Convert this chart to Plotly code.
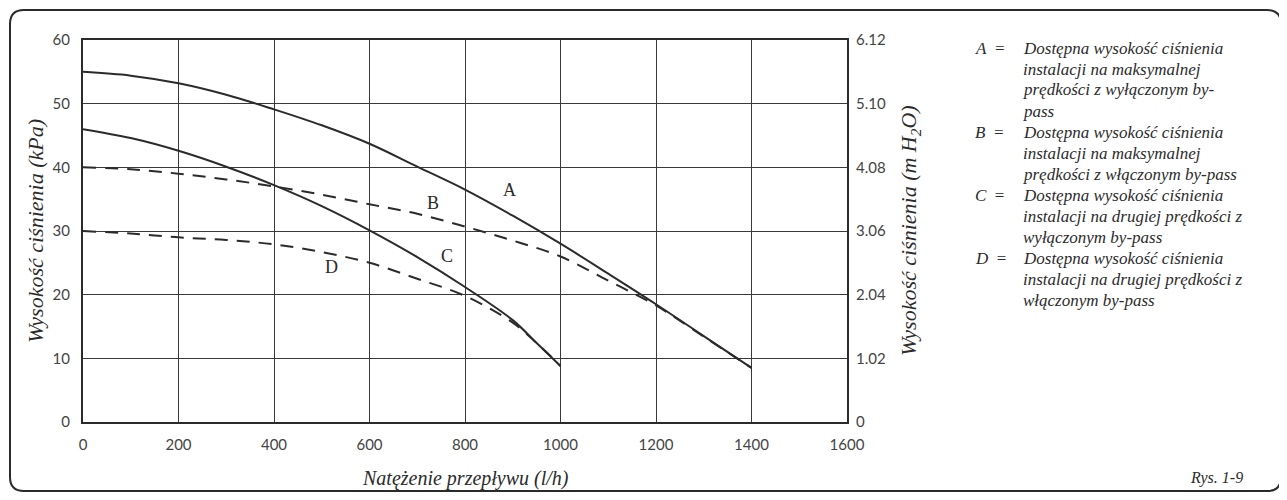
import plotly.graph_objects as go

# ---- data ----
flow_A = [0, 100, 200, 300, 400, 500, 600, 700, 800, 900, 1000, 1100, 1200, 1300, 1400]
head_A = [55.0, 54.4, 53.2, 51.4, 49.1, 46.6, 43.7, 40.1, 36.5, 32.4, 28.0, 23.3, 18.5, 13.5, 8.5]

flow_B = [0, 100, 200, 300, 400, 500, 600, 700, 800, 900, 1000, 1100, 1200, 1300, 1400]
head_B = [40.0, 39.7, 39.0, 38.1, 37.0, 35.7, 34.2, 32.7, 30.7, 28.5, 26.0, 22.2, 18.3, 13.4, 8.5]

flow_C = [0, 100, 200, 300, 400, 500, 600, 700, 800, 900, 950, 1000]
head_C = [46.0, 44.6, 42.6, 40.1, 37.2, 33.9, 30.1, 25.9, 21.2, 16.0, 12.4, 8.8]

flow_D = [0, 100, 200, 300, 400, 500, 600, 700, 800, 900, 950, 1000]
head_D = [30.0, 29.6, 29.0, 28.6, 27.9, 26.7, 25.0, 22.5, 19.8, 15.6, 12.4, 8.8]

x_ticks = [0, 200, 400, 600, 800, 1000, 1200, 1400, 1600]
y_ticks = [0, 10, 20, 30, 40, 50, 60]
y2_ticks = [0, 1.02, 2.04, 3.06, 4.08, 5.10, 6.12]
y2_labels = ["0", "1.02", "2.04", "3.06", "4.08", "5.10", "6.12"]

curve_labels = ["A", "B", "C", "D"]
curve_label_x = [894, 733, 762, 521]
curve_label_y = [36.4, 34.4, 26.1, 24.3]

legend_keys = ["A", "B", "C", "D"]
legend_lines = [
    ["Dostępna wysokość ciśnienia", "instalacji na maksymalnej", "prędkości z wyłączonym by-", "pass"],
    ["Dostępna wysokość ciśnienia", "instalacji na maksymalnej", "prędkości z włączonym by-pass"],
    ["Dostępna wysokość ciśnienia", "instalacji na drugiej prędkości z", "wyłączonym by-pass"],
    ["Dostępna wysokość ciśnienia", "instalacji na drugiej prędkości z", "włączonym by-pass"],
]

# ---- layout geometry (page pixels; page body has an 8px margin) ----
OFF = 8
W, H = 1287, 500
PL, PR, PT, PB = 83, 847, 40, 422          # plot area in page pixels
ML, MT = PL - OFF, PT - OFF
MR, MB = W - (PR - OFF), H - (PB - OFF)
PW = PR - PL
PH = PB - PT

def px_x(px):
    return (px - PL) / PW

def px_y(py):
    return (PB - py) / PH

INK = "#2b2b2b"
SANS = "Lato"
SERIF = "Liberation Serif"

fig = go.Figure()
line_style = dict(color=INK, width=2)
fig.add_trace(go.Scatter(x=flow_A, y=head_A, mode="lines", line=dict(**line_style, shape="spline"), name="A"))
fig.add_trace(go.Scatter(x=flow_B, y=head_B, mode="lines", line=dict(**line_style, shape="spline", dash="13px,9px"), name="B"))
fig.add_trace(go.Scatter(x=flow_C, y=head_C, mode="lines", line=dict(**line_style, shape="spline"), name="C"))
fig.add_trace(go.Scatter(x=flow_D, y=head_D, mode="lines", line=dict(**line_style, shape="spline", dash="13px,9px"), name="D"))
# invisible trace to activate right axis
fig.add_trace(go.Scatter(x=[0], y=[0], yaxis="y2", mode="markers", marker=dict(opacity=0), hoverinfo="skip", showlegend=False))

annotations = []
for lab, lx, ly in zip(curve_labels, curve_label_x, curve_label_y):
    annotations.append(dict(x=lx, y=ly, xref="x", yref="y", text=lab, showarrow=False,
                            font=dict(family=SERIF, size=18, color=INK)))

LINE_H = 21
row = 0
for key, lines in zip(legend_keys, legend_lines):
    yc = 48 + LINE_H * row
    annotations.append(dict(x=px_x(973), y=px_y(yc), xref="paper", yref="paper", xanchor="left", yanchor="middle",
                            text="<i>%s</i>  =" % key, showarrow=False, align="left",
                            font=dict(family=SERIF, size=17, color=INK)))
    for ln in lines:
        yc = 48 + LINE_H * row
        annotations.append(dict(x=px_x(1021), y=px_y(yc), xref="paper", yref="paper", xanchor="left", yanchor="middle",
                                text="<i>%s</i>" % ln, showarrow=False, align="left",
                                font=dict(family=SERIF, size=17, color=INK)))
        row += 1

annotations.append(dict(x=px_x(35), y=0.5, xref="paper", yref="paper", xanchor="center", yanchor="middle",
                        text="<i>Wysokość ciśnienia (kPa)</i>",
                        textangle=-90, showarrow=False, font=dict(family=SERIF, size=22, color=INK)))
annotations.append(dict(x=px_x(910), y=0.5, xref="paper", yref="paper", xanchor="center", yanchor="middle",
                        text="<i>Wysokość ciśnienia (m H<sub>2</sub>O)</i>",
                        textangle=-90, showarrow=False, font=dict(family=SERIF, size=22, color=INK)))
annotations.append(dict(x=px_x(465), y=px_y(478), xref="paper", yref="paper", xanchor="center", yanchor="middle",
                        text="<i>Natężenie przepływu (l/h)</i>",
                        showarrow=False, font=dict(family=SERIF, size=20, color=INK)))
annotations.append(dict(x=px_x(1216), y=px_y(478), xref="paper", yref="paper", xanchor="center", yanchor="middle",
                        text="<i>Rys. 1-9</i>",
                        showarrow=False, font=dict(family=SERIF, size=16, color=INK)))

fig.update_layout(
    width=W, height=H,
    margin=dict(l=ML, r=MR, t=MT, b=MB, pad=0),
    paper_bgcolor="white", plot_bgcolor="white",
    showlegend=False,
    xaxis=dict(range=[0, 1600], tickvals=x_ticks, showgrid=True, gridcolor="#3a3a3a", gridwidth=1,
               showline=True, linecolor=INK, linewidth=2, mirror=True, zeroline=False, ticks="",
               ticklabelstandoff=8, tickfont=dict(family=SANS, size=15, color="#444")),
    yaxis=dict(range=[0, 60], tickvals=y_ticks, showgrid=True, gridcolor="#3a3a3a", gridwidth=1,
               showline=True, linecolor=INK, linewidth=2, mirror=True, zeroline=False, ticks="",
               ticklabelstandoff=8, tickfont=dict(family=SANS, size=15, color="#444")),
    yaxis2=dict(range=[0, 6.12], tickvals=y2_ticks, ticktext=y2_labels, overlaying="y", side="right",
                showgrid=False, zeroline=False, showline=False, ticks="", ticklabelstandoff=8,
                tickfont=dict(family=SANS, size=15, color="#444")),
    annotations=annotations,
    shapes=[dict(type="path", xref="paper", yref="paper",
                 path=("M {a},{t} L {b},{t} Q {r},{t} {r},{tt} L {r},{bb} Q {r},{bo} {b},{bo} "
                       "L {a},{bo} Q {l},{bo} {l},{bb} L {l},{tt} Q {l},{t} {a},{t} Z").format(
                     l=px_x(10), r=px_x(1281), t=px_y(10), bo=px_y(491),
                     a=px_x(24), b=px_x(1267), tt=px_y(24), bb=px_y(477)),
                 line=dict(color=INK, width=2), layer="below")],
)

fig.write_html("out.html")
